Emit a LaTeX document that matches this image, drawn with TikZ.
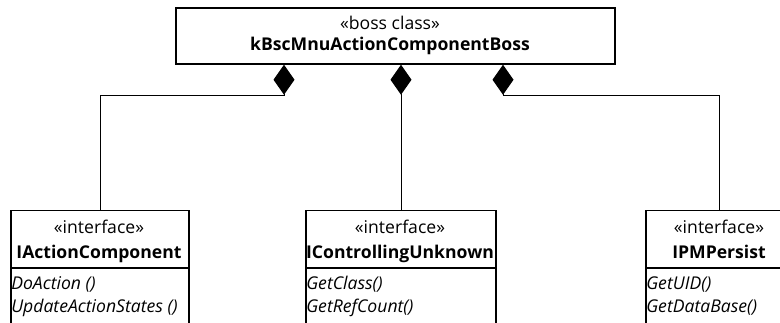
\documentclass[tikz,border=0pt]{standalone}
\usepackage{fontspec}
\setmainfont{Open Sans}
\usetikzlibrary{arrows.meta}
\begin{document}
\begin{tikzpicture}[x=0.75pt,y=-0.75pt,
  box/.style={draw, line width=1.1pt, inner sep=0pt, fill=none},
  conn/.style={line width=0.75pt, -{Diamond[length=22.5pt, width=15.75pt]}},
  stereo/.style={anchor=base, inner sep=0pt, font=\fontsize{13.2pt}{16pt}\selectfont},
  cname/.style={anchor=base, inner sep=0pt, font=\fontsize{13.2pt}{16pt}\selectfont\bfseries},
  meth/.style={anchor=base west, inner sep=0pt, font=\fontsize{13.2pt}{16pt}\selectfont\itshape}]
\useasboundingbox (0,0) rectangle (780,322);
\clip (0,0) rectangle (780,322);
% boss class
\node[box, minimum width=439*0.75pt, minimum height=56*0.75pt] (boss) at (395.5,36) {};
\node[stereo] (bossS) at (390,29) {«boss class»};
\node[cname] (bossN) at (390,50) {kBscMnuActionComponentBoss};
% interfaces
\node[box, anchor=north, minimum width=178*0.75pt, minimum height=140*0.75pt] (ia) at (100,210) {};
\node[box, anchor=north, minimum width=190*0.75pt, minimum height=140*0.75pt] (ic) at (401,210) {};
\node[box, anchor=north, minimum width=146*0.75pt, minimum height=140*0.75pt] (ip) at (719,210) {};
\foreach \b in {ia,ic,ip}{
  \draw[line width=1.1pt] ([yshift=-43.5pt]\b.north west) -- ([yshift=-43.5pt]\b.north east);
}
\node[stereo] (iaS) at (99,233) {«interface»};
\node[cname] (iaN) at (99,258) {IActionComponent};
\node[meth] (iaM1) at (11,289) {DoAction ()};
\node[meth] (iaM2) at (11,312) {UpdateActionStates ()};
\node[stereo] (icS) at (400,233) {«interface»};
\node[cname] (icN) at (400,258) {IControllingUnknown};
\node[meth] (icM1) at (306,289) {GetClass()};
\node[meth] (icM2) at (306,312) {GetRefCount()};
\node[stereo] (ipS) at (719,233) {«interface»};
\node[cname] (ipN) at (719,258) {IPMPersist};
\node[meth] (ipM1) at (646,289) {GetUID()};
\node[meth] (ipM2) at (646,312) {GetDataBase()};
% connectors
\coordinate (d1) at (284,95);
\coordinate (d3) at (503,95);
\draw[conn] (ia.north) |- (d1) -- (d1 |- boss.south);
\draw[conn] (ic.north) -- (ic.north |- boss.south);
\draw[conn] (ip.north) |- (d3) -- (d3 |- boss.south);
\end{tikzpicture}
\end{document}
